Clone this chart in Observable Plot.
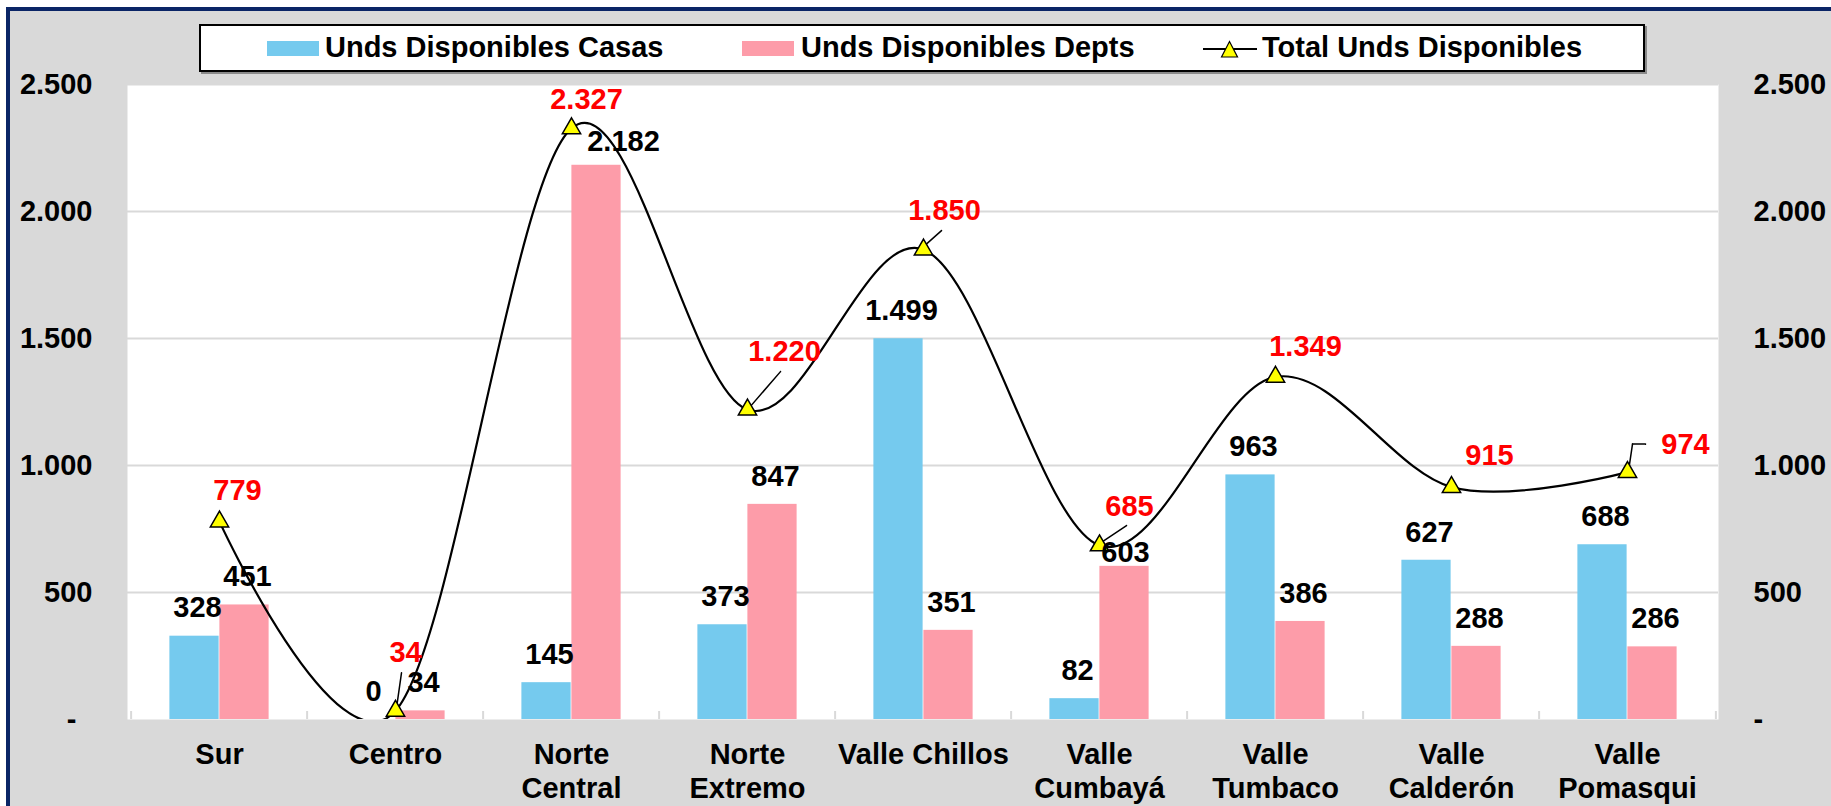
<!DOCTYPE html>
<html>
<head>
<meta charset="utf-8">
<script src="https://cdn.jsdelivr.net/npm/d3@7"></script>
<script src="https://cdn.jsdelivr.net/npm/@observablehq/plot@0.6"></script>
<style>
  html, body { margin: 0; padding: 0; }
  body { background: #ffffff; width: 1831px; height: 806px; overflow: hidden; position: relative;
         font-family: "Liberation Sans", Arial, sans-serif; font-weight: bold; }
  #frame { position: absolute; left: 6px; top: 7px; width: 1850px; height: 830px;
           border-left: 4px solid #0a2566; border-top: 4px solid #0a2566; background: #d9d9d9; }
  #legend { position: absolute; left: 199px; top: 24px; width: 1442px; height: 44px;
            border: 2px solid #000; background: #fff; box-shadow: 2px 2px 0 #8a8a8a; }
  .lg { position: absolute; font-size: 29px; line-height: 29px; top: 33px; white-space: nowrap; color: #000; }
  .sw { position: absolute; top: 41px; width: 52px; height: 15px; }
  #chart { position: absolute; left: 0; top: 76px; }
</style>
</head>
<body>
<div id="frame"></div>
<div id="legend"></div>
<div id="legendItems"></div>
<div id="chart"></div>
<script>
// ---- data ----
const categories = ["Sur", "Centro", "Norte Central", "Norte Extremo", "Valle Chillos", "Valle Cumbayá", "Valle Tumbaco", "Valle Calderón", "Valle Pomasqui"];
const tickLabels = ["Sur", "Centro", "Norte\nCentral", "Norte\nExtremo", "Valle Chillos", "Valle\nCumbayá", "Valle\nTumbaco", "Valle\nCalderón", "Valle\nPomasqui"];
const casas  = [328, 0, 145, 373, 1499, 82, 963, 627, 688];
const depts  = [451, 34, 2182, 847, 351, 603, 386, 288, 286];
const totals = [779, 34, 2327, 1220, 1850, 685, 1349, 915, 974];
const yTicks = [0, 500, 1000, 1500, 2000, 2500];
const seriesNames = ["Unds Disponibles Casas", "Unds Disponibles Depts", "Total Unds Disponibles"];

// ---- styling / layout ----
const colCasas = "#75caee", colDepts = "#fd9ca9";
const W = 1831, H = 730, mL = 127, mR = 113, mT = 8, mB = 87;
const step = (W - mL - mR) / categories.length, half = step / 2, barW = 50;
const FONT = "Liberation Sans, Arial, sans-serif";
const FS = 29;

// legend (HTML, above the svg)
const li = document.getElementById("legendItems");
li.innerHTML = `
  <div class="sw" style="left:267px;background:${colCasas}"></div>
  <div class="lg" style="left:325px">${seriesNames[0]}</div>
  <div class="sw" style="left:742px;background:${colDepts}"></div>
  <div class="lg" style="left:801px">${seriesNames[1]}</div>
  <svg style="position:absolute;left:1203px;top:40px" width="54" height="18">
    <line x1="0" y1="9" x2="54" y2="9" stroke="#000" stroke-width="2"/>
    <polygon points="18.5,17 26.5,1.5 34.5,17" fill="#ffff00" stroke="#000" stroke-width="1.2"/>
  </svg>
  <div class="lg" style="left:1262px">${seriesNames[2]}</div>`;

const rows = categories.map((c, i) => ({cat: c, casas: casas[i], depts: depts[i], total: totals[i]}));
const fmtN = d3.formatLocale({decimal: ",", thousands: ".", grouping: [3], currency: ["", ""]}).format(",d");
const fmtAxis = d => d === 0 ? "-\u2007" : fmtN(d);
const labelOf = Object.fromEntries(categories.map((c, i) => [c, tickLabels[i]]));

// label placement (pixel nudges relative to marker / bar top)
const totalNudge = {
  "Sur": [18, -31], "Centro": [10, -58], "Norte Central": [15, -29], "Norte Extremo": [37, -58],
  "Valle Chillos": [21, -39], "Valle Cumbayá": [30, -39], "Valle Tumbaco": [30, -30],
  "Valle Calderón": [38, -31], "Valle Pomasqui": [58, -27]
};
const deptNudge = {"Norte Central": [27, -24], "Valle Cumbayá": [1, -14]};
const leaders = [
  ["Centro", 1, -3, 6, -38],
  ["Norte Extremo", 1, -1, 33, -38],
  ["Valle Chillos", 0, -3, 18, -19],
  ["Valle Cumbayá", 0, -2, 27, -20],
  ["Valle Pomasqui", 1, -1, 5, -28],
  ["Valle Pomasqui", 5, -28, 18, -28]
];

const textBase = {fontSize: FS, fontWeight: "bold", fontFamily: FONT};

const marks = [
  Plot.frame({fill: "white", stroke: "none"}),
  Plot.ruleY(yTicks.filter(d => d > 0), {stroke: "#d9d9d9", strokeWidth: 2}),
  Plot.ruleX(categories, {x: d => d, y1: 0, y2: 0, insetTop: -8, dx: -half, stroke: "#d9d9d9", strokeWidth: 2}),
  Plot.ruleX(categories.slice(-1), {x: d => d, y1: 0, y2: 0, insetTop: -8, dx: half, stroke: "#d9d9d9", strokeWidth: 2}),
  Plot.barY(rows, {x: "cat", y: "casas", fill: colCasas, insetLeft: half - barW, insetRight: half}),
  Plot.barY(rows, {x: "cat", y: "depts", fill: colDepts, insetLeft: half, insetRight: half - barW}),
  Plot.line(rows, {x: "cat", y: "total", curve: "cardinal", stroke: "#000", strokeWidth: 2.2, clip: true}),
  ...leaders.map(([c, x0, y0, x1, y1]) => Plot.vector(rows.filter(r => r.cat === c), {
    x: "cat", y: "total", anchor: "start", dx: x0, dy: y0,
    length: Math.hypot(x1 - x0, y1 - y0),
    rotate: Math.atan2(x1 - x0, -(y1 - y0)) * 180 / Math.PI,
    r: 0.001, stroke: "#000", strokeWidth: 1.5
  })),
  Plot.dot(rows, {x: "cat", y: "total", symbol: "triangle", r: 6.8, fill: "#ffff00", stroke: "#000", strokeWidth: 1.5}),
  Plot.text(rows, {x: "cat", y: "casas", text: d => fmtN(d.casas), dx: -barW / 2 + 3, dy: -28, fill: "#000", ...textBase}),
  ...rows.map(r => {
    const [dx, dy] = deptNudge[r.cat] || [3, -28];
    return Plot.text([r], {x: "cat", y: "depts", text: d => fmtN(d.depts), dx: barW / 2 + dx, dy, fill: "#000", ...textBase});
  }),
  ...rows.map(r => {
    const [dx, dy] = totalNudge[r.cat];
    return Plot.text([r], {x: "cat", y: "total", text: d => fmtN(d.total), dx, dy, fill: "#ff0000", ...textBase});
  }),
  Plot.axisY(yTicks, {anchor: "left", tickSize: 0, tickPadding: 35, tickFormat: fmtAxis, label: null, ...textBase, fill: "#000"}),
  Plot.axisY(yTicks, {anchor: "right", tickSize: 0, tickPadding: 35, tickFormat: fmtAxis, label: null, textAnchor: "start", ...textBase, fill: "#000"}),
  Plot.axisX({tickSize: 0, tickPadding: 21, tickFormat: d => labelOf[d], label: null, lineHeight: 1.15, ...textBase, fill: "#000"})
];

const chart = Plot.plot({
  width: W, height: H,
  marginLeft: mL, marginRight: mR, marginTop: mT, marginBottom: mB,
  style: {background: "transparent", overflow: "visible", fontFamily: FONT, fontSize: FS + "px", fontWeight: "bold", color: "#000"},
  x: {type: "band", domain: categories, padding: 0, label: null},
  y: {domain: [0, 2500], label: null},
  marks
});
document.getElementById("chart").appendChild(chart);
</script>
</body>
</html>
